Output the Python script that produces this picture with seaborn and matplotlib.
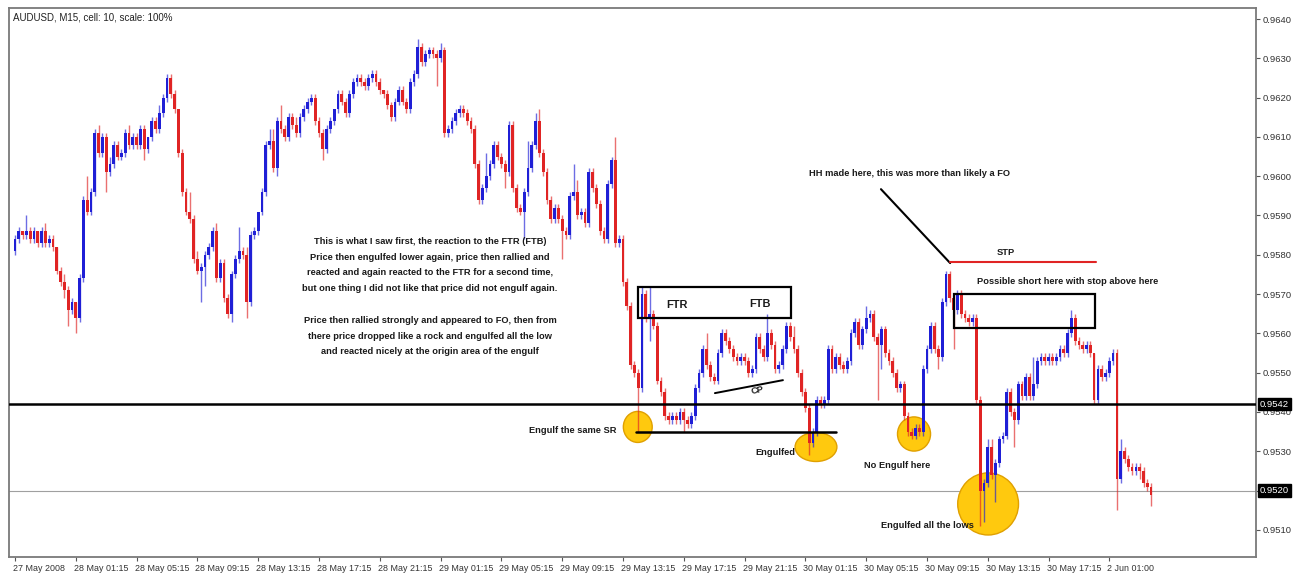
import numpy as np
import pandas as pd
import matplotlib
matplotlib.use("Agg")
import matplotlib.pyplot as plt
from matplotlib.patches import Ellipse, Rectangle
import matplotlib.transforms as mtransforms
from matplotlib import font_manager
import seaborn as sns

# ---------------- data (prices in pips, 0.0001) ----------------
OPEN0 = 9581
CLOSE = [
    9584, 9586, 9585, 9586, 9584, 9586, 9583, 9586, 9583, 9584,
    9582, 9576, 9573, 9571, 9566, 9568, 9564, 9574, 9594, 9591,
    9596, 9611, 9606, 9610, 9601, 9603, 9608, 9605, 9606, 9611,
    9608, 9610, 9608, 9612, 9607, 9610, 9614, 9612, 9616, 9620,
    9625, 9621, 9617, 9606, 9596, 9591, 9589, 9579, 9576, 9577,
    9580, 9582, 9586, 9574, 9578, 9569, 9565, 9575, 9579, 9581,
    9580, 9568, 9585, 9586, 9591, 9596, 9608, 9609, 9602, 9614,
    9612, 9610, 9615, 9613, 9611, 9615, 9617, 9619, 9620, 9614,
    9611, 9607, 9612, 9614, 9617, 9621, 9619, 9616, 9621, 9624,
    9625, 9624, 9623, 9625, 9626, 9624, 9622, 9621, 9618, 9615,
    9619, 9622, 9619, 9617, 9624, 9626, 9633, 9629, 9631, 9632,
    9631, 9630, 9632, 9611, 9612, 9614, 9616, 9617, 9616, 9614,
    9612, 9603, 9594, 9597, 9600, 9603, 9608, 9605, 9603, 9601,
    9613, 9597, 9592, 9591, 9596, 9602, 9608, 9614, 9606, 9601,
    9594, 9589, 9592, 9589, 9586, 9585, 9595, 9596, 9590, 9591,
    9588, 9601, 9597, 9593, 9586, 9584, 9598, 9604, 9583, 9584,
    9573, 9567, 9552, 9550, 9546, 9570, 9564, 9565, 9562, 9548,
    9545, 9539, 9538, 9539, 9538, 9540, 9538, 9537, 9539, 9546,
    9550, 9556, 9552, 9549, 9548, 9555, 9560, 9558, 9556, 9554,
    9553, 9554, 9553, 9550, 9551, 9559, 9556, 9554, 9560, 9557,
    9551, 9552, 9556, 9562, 9559, 9556, 9550, 9545, 9541, 9532,
    9535, 9543, 9542, 9543, 9556, 9551, 9554, 9552, 9551, 9553,
    9560, 9563, 9557, 9561, 9564, 9565, 9559, 9557, 9561, 9555,
    9553, 9550, 9546, 9547, 9539, 9535, 9534, 9536, 9535, 9551,
    9556, 9562, 9556, 9554, 9568, 9575, 9569, 9566, 9570, 9565,
    9564, 9563, 9564, 9543, 9520, 9522, 9531, 9524, 9527, 9533,
    9534, 9545, 9540, 9538, 9547, 9544, 9549, 9544, 9547, 9553,
    9554, 9553, 9554, 9553, 9554, 9556, 9555, 9560, 9564, 9558,
    9557, 9556, 9557, 9555, 9543, 9551, 9549, 9550, 9553, 9555,
    9523, 9530, 9528, 9526, 9525, 9526, 9525, 9522, 9521, 9519,
]
UPPER_WICK = [
    1, 1, 0, 4, 1, 1, 0, 1, 2, 1,
    1, 0, 1, 2, 1, 1, 0, 1, 1, 6,
    1, 1, 2, 1, 1, 2, 1, 1, 1, 1,
    2, 1, 1, 1, 1, 0, 1, 1, 2, 1,
    1, 1, 1, 0, 1, 1, 5, 1, 2, 1,
    1, 1, 1, 2, 1, 1, 1, 1, 1, 6,
    1, 2, 1, 1, 0, 1, 1, 3, 3, 1,
    4, 1, 1, 1, 2, 1, 1, 1, 1, 1,
    1, 1, 1, 1, 0, 1, 1, 1, 1, 1,
    1, 1, 1, 1, 1, 1, 1, 0, 1, 1,
    1, 1, 1, 1, 1, 1, 2, 1, 1, 1,
    1, 1, 2, 1, 1, 1, 1, 1, 1, 1,
    1, 1, 1, 1, 6, 1, 1, 1, 1, 1,
    1, 1, 1, 1, 1, 7, 1, 2, 3, 1,
    1, 1, 1, 1, 1, 1, 1, 7, 3, 1,
    1, 1, 1, 1, 1, 1, 1, 1, 6, 1,
    1, 1, 1, 1, 1, 2, 1, 7, 1, 1,
    1, 1, 1, 1, 1, 1, 1, 1, 1, 1,
    1, 1, 4, 1, 1, 1, 1, 1, 1, 1,
    1, 1, 1, 1, 1, 1, 1, 1, 5, 1,
    1, 1, 1, 1, 1, 3, 1, 1, 1, 1,
    1, 1, 1, 1, 1, 1, 1, 1, 1, 1,
    1, 1, 1, 1, 3, 1, 1, 1, 1, 1,
    1, 1, 1, 1, 1, 1, 1, 1, 1, 1,
    1, 1, 1, 1, 1, 1, 1, 1, 1, 1,
    1, 1, 1, 1, 1, 1, 2, 2, 1, 1,
    1, 1, 1, 1, 1, 1, 1, 1, 7, 1,
    1, 1, 1, 1, 1, 1, 1, 1, 2, 1,
    1, 1, 1, 1, 0, 1, 1, 1, 1, 1,
    1, 3, 1, 1, 1, 1, 1, 1, 1, 1,
]
LOWER_WICK = [
    1, 1, 1, 1, 1, 1, 1, 1, 1, 1,
    1, 1, 1, 2, 4, 1, 4, 1, 1, 1,
    1, 1, 1, 1, 5, 1, 1, 1, 1, 1,
    1, 1, 1, 1, 3, 1, 1, 1, 1, 1,
    1, 1, 1, 1, 1, 1, 1, 1, 1, 8,
    5, 1, 1, 1, 1, 1, 1, 2, 1, 1,
    1, 4, 1, 1, 1, 1, 1, 1, 1, 2,
    1, 1, 1, 1, 1, 1, 1, 1, 1, 1,
    1, 3, 1, 1, 1, 1, 1, 1, 1, 1,
    1, 1, 1, 1, 1, 1, 1, 1, 1, 1,
    1, 1, 1, 1, 1, 1, 1, 1, 1, 1,
    1, 7, 1, 1, 1, 1, 1, 1, 1, 1,
    1, 1, 1, 1, 1, 1, 1, 1, 1, 4,
    1, 1, 1, 1, 7, 1, 1, 1, 1, 1,
    1, 1, 1, 1, 7, 1, 1, 1, 1, 1,
    1, 1, 1, 1, 1, 1, 1, 1, 1, 1,
    1, 1, 1, 1, 11, 1, 1, 6, 1, 1,
    1, 1, 1, 1, 1, 1, 3, 1, 1, 1,
    1, 1, 1, 1, 1, 1, 1, 1, 1, 1,
    1, 1, 1, 1, 1, 1, 1, 1, 1, 1,
    1, 1, 1, 1, 1, 1, 1, 1, 1, 3,
    1, 1, 1, 1, 1, 1, 1, 1, 1, 1,
    1, 1, 1, 1, 1, 1, 1, 14, 6, 1,
    1, 1, 1, 1, 1, 1, 1, 1, 1, 1,
    1, 1, 1, 3, 1, 1, 1, 10, 1, 1,
    1, 1, 1, 1, 9, 8, 1, 1, 7, 1,
    1, 1, 1, 7, 1, 1, 1, 1, 1, 1,
    1, 1, 1, 1, 1, 1, 1, 1, 1, 1,
    1, 1, 1, 1, 1, 1, 1, 1, 1, 1,
    8, 1, 1, 1, 1, 1, 2, 1, 1, 3,
]
X_TICK_BARS = [0, 16, 32, 48, 64, 80, 96, 112, 128, 144, 160, 176, 192,
               208, 224, 240, 256, 272, 288]
X_TICK_LABELS = ["27 May 2008", "28 May 01:15", "28 May 05:15", "28 May 09:15",
                 "28 May 13:15", "28 May 17:15", "28 May 21:15", "29 May 01:15",
                 "29 May 05:15", "29 May 09:15", "29 May 13:15", "29 May 17:15",
                 "29 May 21:15", "30 May 01:15", "30 May 05:15", "30 May 09:15",
                 "30 May 13:15", "30 May 17:15", "2 Jun 01:00"]
Y_TICKS = [0.9510, 0.9520, 0.9530, 0.9540, 0.9550, 0.9560, 0.9570, 0.9580,
           0.9590, 0.9600, 0.9610, 0.9620, 0.9630, 0.9640]
LEVEL_MAIN = 0.9542
LEVEL_LOW = 0.9520
TITLE = "AUDUSD, M15, cell: 10, scale: 100%"
NOTE_LINES = [
    "This is what I saw first, the reaction to the FTR (FTB)",
    "Price then engulfed lower again, price then rallied and",
    "reacted and again reacted to the FTR for a second time,",
    "but one thing I did not like that price did not engulf again.",
    "Price then rallied strongly and appeared to FO, then from",
    "there price dropped like a rock and engulfed all the low",
    "and reacted nicely at the origin area of the engulf",
]
NOTE_Y = [0.95835, 0.95794, 0.95754, 0.95713, 0.95634, 0.95593, 0.95553]

# ---------------- style ----------------
sns.set_theme(style="white")
plt.rcParams['font.family'] = ['Liberation Sans', 'DejaVu Sans']
BULL, BEAR = sns.color_palette(["#1f1fd6", "#e02424"])

try:
    font_manager.findfont(font_manager.FontProperties(family="Liberation Sans Narrow",
                                                      weight="bold"),
                          fallback_to_default=False)
    NOTE_FONT = ['Liberation Sans Narrow', 'DejaVu Sans']
    NOTE_FS = 8.1
except Exception:
    NOTE_FONT = ['Liberation Sans', 'DejaVu Sans']
    NOTE_FS = 6.7

close = np.array(CLOSE) / 1e4
open_ = np.concatenate([[OPEN0], CLOSE[:-1]]) / 1e4
high = np.maximum(open_, close) + np.array(UPPER_WICK) / 1e4
low = np.minimum(open_, close) - np.array(LOWER_WICK) / 1e4
df = pd.DataFrame({"bar": np.arange(len(CLOSE)), "open": open_, "close": close,
                   "high": high, "low": low})
df["up"] = df["close"] >= df["open"]

fig = plt.figure(figsize=(12.96, 5.73), dpi=100)
fig.patch.set_facecolor("white")
ax = fig.add_axes([9 / 1296, 16 / 573, 1247 / 1296, 549 / 573])
ax.set_facecolor("white")

colors = [BULL if u else BEAR for u in df["up"]]
ax.vlines(df["bar"], df["low"], df["high"], colors=colors, lw=1.0, alpha=0.65, zorder=3)
body_h = np.maximum((df["close"] - df["open"]).abs(), 0.00003)
ax.bar(df["bar"], body_h, bottom=np.minimum(df["open"], df["close"]), width=0.72,
       color=colors, linewidth=0, zorder=4)

# levels
ax.axhline(LEVEL_MAIN, color="black", lw=1.8, zorder=5)
ax.axhline(LEVEL_LOW, color="#a0a0a0", lw=0.8, zorder=1)

ax.set_xlim(-1.58, 326.6)
ax.set_ylim(0.95031, 0.96428)

# axes ticks
ax.yaxis.tick_right()
ax.set_yticks(Y_TICKS)
ax.set_yticklabels(["" if abs(v - LEVEL_LOW) < 1e-6 else f"{v:.4f}" for v in Y_TICKS],
                   fontsize=6.8, color="#333333")
ax.set_xticks(X_TICK_BARS)
ax.set_xticklabels(X_TICK_LABELS, fontsize=6.4, color="#333333", ha="left")
ax.tick_params(axis="y", which="both", right=True, direction="out", length=3,
               width=0.8, pad=2, colors="#555555", labelcolor="#333333")
ax.tick_params(axis="x", which="both", bottom=True, direction="out", length=3,
               width=0.8, pad=2, colors="#555555", labelcolor="#333333")
for lbl in ax.get_xticklabels():
    lbl.set_transform(lbl.get_transform() + mtransforms.ScaledTranslation(-2 / 100, 0, fig.dpi_scale_trans))
for s in ax.spines.values():
    s.set_color("#7a7a7a")
    s.set_linewidth(1.3)
ax.grid(False)

# price boxes on the right
ytrans = mtransforms.blended_transform_factory(ax.transAxes, ax.transData)
for lvl in (LEVEL_MAIN, LEVEL_LOW):
    ax.text(1.0 + 4 / 1247, lvl, f"{lvl:.4f}", transform=ytrans, ha="left", va="center",
            fontsize=6.8, color="white", zorder=10, clip_on=False,
            bbox=dict(facecolor="black", edgecolor="black", boxstyle="square,pad=0.18"))

# title
ax.text(0.003, 0.982, TITLE, transform=ax.transAxes, ha="left", va="center",
        fontsize=7, color="#222222")

tkw = dict(family=NOTE_FONT, weight="bold", color="#1a1a1a", fontsize=NOTE_FS, zorder=6)

# central note
for line, yv in zip(NOTE_LINES, NOTE_Y):
    ax.text(109.2, yv, line, ha="center", va="center", **tkw)

# FTR / FTB box
ax.add_patch(Rectangle((163.9, 0.95639), 40.3, 0.00079, fill=False, edgecolor="black",
                       lw=1.6, zorder=6))
big = dict(tkw, fontsize=NOTE_FS * 1.18)
ax.text(174.2, 0.95672, "FTR", ha="center", va="center", **big)
ax.text(196.0, 0.95675, "FTB", ha="center", va="center", **big)

# CP line
ax.plot([184.2, 202.1], [0.95448, 0.95481], color="black", lw=1.4, zorder=6)
ax.text(195.3, 0.95456, "CP", ha="center", va="center", rotation=11, **tkw)

# engulf SR line
ax.plot([163.4, 216.0], [0.95350, 0.95350], color="black", lw=1.8, zorder=6)

# circles
ELL = dict(facecolor="#ffc90e", edgecolor="#e0a000", lw=1.0, zorder=2)
ax.add_patch(Ellipse((163.9, 0.95362), 7.6, 0.00079, **ELL))
ax.add_patch(Ellipse((210.8, 0.95311), 11.0, 0.00074, **ELL))
ax.add_patch(Ellipse((236.6, 0.95344), 8.7, 0.00087, **ELL))
ax.add_patch(Ellipse((256.1, 0.95166), 16.0, 0.00158, **ELL))

ax.text(158.4, 0.95354, "Engulf the same SR", ha="right", va="center", **tkw)
ax.text(200.0, 0.95296, "Engulfed", ha="center", va="center", **tkw)
ax.text(232.2, 0.95263, "No Engulf here", ha="center", va="center", **tkw)
ax.text(240.1, 0.95112, "Engulfed all the lows", ha="center", va="center", **tkw)

# HH note
ax.plot([227.9, 246.1], [0.95967, 0.95779], color="black", lw=1.5, zorder=6)
ax.text(235.3, 0.96008, "HH made here, this was more than likely a FO", ha="center",
        va="center", **tkw)

# STP line and short box
ax.text(260.8, 0.95807, "STP", ha="center", va="center", **tkw)
ax.plot([246.1, 284.5], [0.95782, 0.95782], color="#e02424", lw=1.5, zorder=6)
ax.text(277.1, 0.95733, "Possible short here with stop above here", ha="center",
        va="center", **tkw)
ax.add_patch(Rectangle((247.1, 0.95614), 37.1, 0.00086, fill=False, edgecolor="black",
                       lw=1.6, zorder=6))

fig.savefig("out.png", dpi=100, facecolor="white")
